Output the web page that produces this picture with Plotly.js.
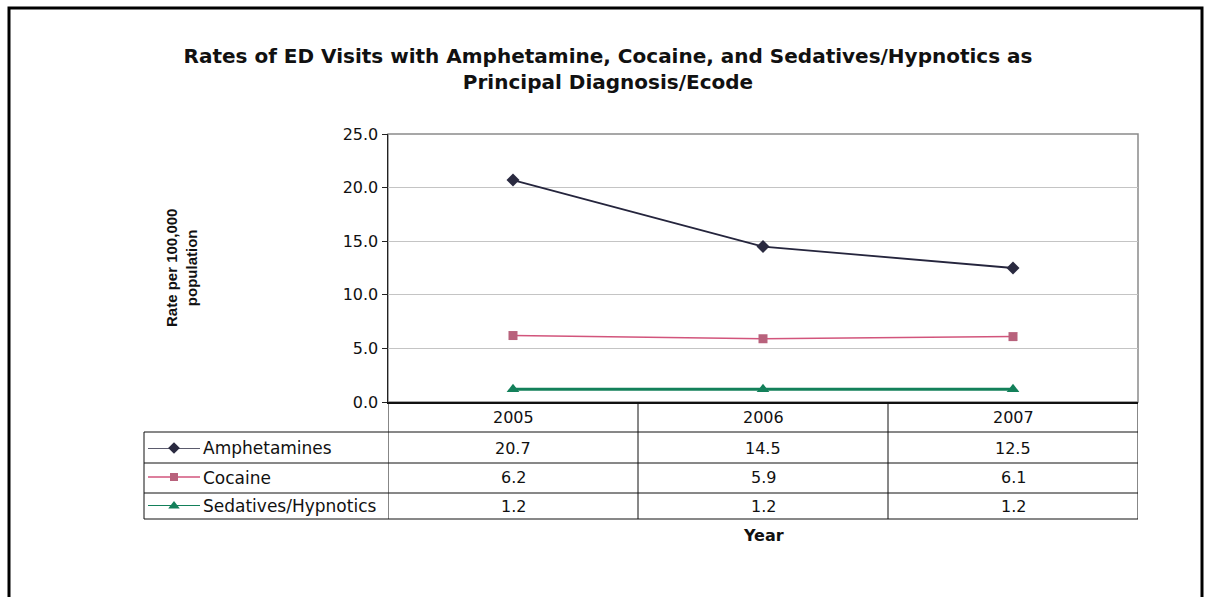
<!DOCTYPE html>
<html>
<head>
<meta charset="utf-8">
<script src="https://cdn.plot.ly/plotly-3.0.1.min.js"></script>
<style>html,body{margin:0;padding:0;background:#fff;}#chart{width:1206px;height:597px;}</style>
</head>
<body>
<div id="chart"></div>
<script>
// ---- data ----
var years = ["2005", "2006", "2007"];
var seriesNames = ["Amphetamines", "Cocaine", "Sedatives/Hypnotics"];
var amphetamines = [20.7, 14.5, 12.5];
var cocaine = [6.2, 5.9, 6.1];
var sedatives = [1.2, 1.2, 1.2];
var yTicks = [0, 5, 10, 15, 20, 25];
var titleText = "Rates of ED Visits with Amphetamine, Cocaine, and Sedatives/Hypnotics as<br>Principal Diagnosis/Ecode";
var yTitleText = "Rate per 100,000<br>population";
var xTitleText = "Year";

// ---- layout helpers (pixel -> paper) ----
var W = 1206, H = 597;
function px(x) { return x / W; }
function py(y) { return 1 - y / H; }

var plotL = 388, plotR = 1138, plotT = 134, plotB = 402;
var rowLines = [432, 463, 493, 519];
var rowCenters = [448, 478, 506];
var headerCenter = 417;
var tableL = 144;
var FONT = "DejaVu Sans, Liberation Sans, Arial, sans-serif";

var styles = [
  {line: "#25253d", marker: "#2a2a40", symbol: "diamond", size: 10, width: 1.8},
  {line: "#d2557c", marker: "#b8627c", symbol: "square", size: 9, width: 1.5},
  {line: "#13805a", marker: "#13805a", symbol: "triangle-up", size: 11, width: 3}
];
var allSeries = [amphetamines, cocaine, sedatives];
var xIdx = years.map(function (y, j) { return j; });

var traces = [];
allSeries.forEach(function (vals, i) {
  traces.push({
    x: xIdx, y: vals, type: "scatter", mode: "lines+markers", name: seriesNames[i],
    line: {color: styles[i].line, width: styles[i].width},
    marker: {color: styles[i].marker, symbol: styles[i].symbol, size: styles[i].size},
    cliponaxis: false, hoverinfo: "skip"
  });
});
// legend keys inside table (own small axes)
allSeries.forEach(function (vals, i) {
  traces.push({
    x: [0, 1, 2], y: [i, i, i], xaxis: "x2", yaxis: "y2", type: "scatter",
    mode: "lines", line: {color: styles[i].line, width: styles[i].width === 3 ? 2 : 1.5},
    showlegend: false, hoverinfo: "skip", cliponaxis: false
  });
  traces.push({
    x: [1], y: [i], xaxis: "x2", yaxis: "y2", type: "scatter", mode: "markers",
    marker: {color: styles[i].marker, symbol: styles[i].symbol, size: styles[i].size - 1},
    showlegend: false, hoverinfo: "skip", cliponaxis: false
  });
});

var shapes = [];
// outer frame
shapes.push({type: "rect", xref: "paper", yref: "paper", x0: px(9), x1: px(1202), y0: py(605), y1: py(8),
  line: {color: "#000", width: 3}});
// plot area frame (gray)
shapes.push({type: "rect", xref: "paper", yref: "paper", x0: px(plotL), x1: px(plotR), y0: py(plotB), y1: py(plotT),
  line: {color: "#8a8a8a", width: 1.5}, layer: "below"});
// table horizontal lines
rowLines.forEach(function (y) {
  shapes.push({type: "line", xref: "paper", yref: "paper", x0: px(tableL), x1: px(plotR), y0: py(y), y1: py(y),
    line: {color: "#111", width: 1}});
});
// table vertical lines (category boundaries)
[-0.5, 0.5, 1.5, 2.5].forEach(function (c) {
  shapes.push({type: "line", xref: "x", yref: "paper", x0: c, x1: c, y0: py(rowLines[3]), y1: py(plotB),
    line: {color: "#111", width: 1}});
});
shapes.push({type: "line", xref: "paper", yref: "paper", x0: px(tableL), x1: px(tableL), y0: py(rowLines[3]), y1: py(rowLines[0]),
  line: {color: "#111", width: 1}});

var annotations = [];
var tableFont = {family: FONT, size: 16, color: "#111"};
var legendFont = {family: FONT, size: 17, color: "#111"};
years.forEach(function (yr, j) {
  annotations.push({xref: "x", yref: "paper", x: j, y: py(headerCenter), text: yr, showarrow: false,
    font: tableFont, xanchor: "center", yanchor: "middle"});
  allSeries.forEach(function (vals, i) {
    annotations.push({xref: "x", yref: "paper", x: j, y: py(rowCenters[i]), text: vals[j].toFixed(1), showarrow: false,
      font: tableFont, xanchor: "center", yanchor: "middle"});
  });
});
seriesNames.forEach(function (n, i) {
  annotations.push({xref: "paper", yref: "paper", x: px(201), y: py(rowCenters[i]), text: n, showarrow: false,
    font: legendFont, xanchor: "left", yanchor: "middle"});
});
annotations.push({xref: "paper", yref: "paper", x: px(181), y: py(268), text: "<b>" + yTitleText + "</b>", showarrow: false,
  textangle: -90, font: {family: "Liberation Sans Narrow, Arial Narrow, Liberation Sans, sans-serif", size: 15, color: "#111"},
  xanchor: "center", yanchor: "middle"});
annotations.push({xref: "x", yref: "paper", x: 1, y: py(535), text: "<b>" + xTitleText + "</b>", showarrow: false,
  font: {family: FONT, size: 16, color: "#111"}, xanchor: "center", yanchor: "middle"});

var layout = {
  width: W, height: H,
  margin: {l: 0, r: 0, t: 0, b: 0},
  paper_bgcolor: "#fff", plot_bgcolor: "#fff",
  showlegend: false,
  title: {text: "<b>" + titleText + "</b>", x: px(608), xanchor: "center", y: py(63), yanchor: "middle",
    xref: "paper", yref: "paper",
    font: {family: FONT, size: 20, color: "#111"}},
  xaxis: {domain: [px(plotL), px(plotR)], range: [-0.5, 2.5], showticklabels: false,
    showgrid: false, zeroline: false, showline: true, linecolor: "#111", linewidth: 1.5, ticks: ""},
  yaxis: {domain: [py(plotB), py(plotT)], range: [0, 25], tickvals: yTicks,
    ticktext: yTicks.map(function (v) { return v.toFixed(1); }),
    showgrid: true, gridcolor: "#c4c4c4", gridwidth: 1, zeroline: false,
    showline: true, linecolor: "#222", linewidth: 1.5, ticks: "outside", ticklen: 5, tickcolor: "#222",
    tickfont: {family: FONT, size: 16, color: "#111"}},
  xaxis2: {domain: [px(148), px(200)], range: [0, 2], visible: false, anchor: "y2"},
  yaxis2: {domain: [py(rowCenters[2]), py(rowCenters[0])], range: [2, 0], visible: false, anchor: "x2"},
  shapes: shapes,
  annotations: annotations
};

Plotly.newPlot("chart", traces, layout, {displayModeBar: false, staticPlot: true});
</script>
</body>
</html>
